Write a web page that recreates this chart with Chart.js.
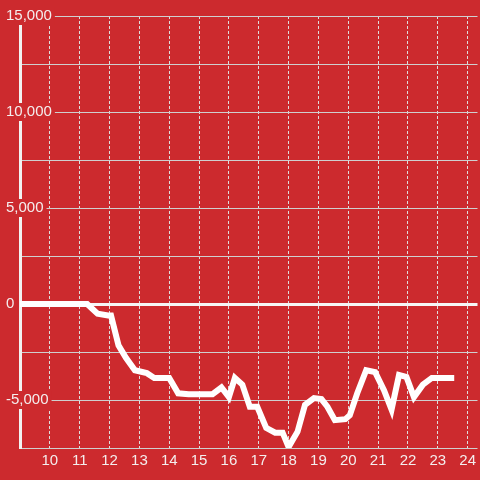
<!DOCTYPE html>
<html>
<head>
<meta charset="utf-8">
<script src="https://cdn.jsdelivr.net/npm/chart.js@4.4.1/dist/chart.umd.min.js"></script>
<style>
  html, body { margin: 0; padding: 0; background: #cc2a2e; }
  #wrap { width: 480px; height: 480px; }
</style>
</head>
<body>
<div id="wrap"><canvas id="myChart" width="480" height="480"></canvas></div>
<script>
// values
var hours = [9.0, 11.25, 11.6, 11.95, 12.05, 12.3, 12.55, 12.85, 13.25, 13.5, 14.0, 14.3, 14.65, 15.45, 15.75, 16.0, 16.2, 16.45, 16.7, 16.95, 17.25, 17.55, 17.8, 18.0, 18.3, 18.55, 18.85, 19.1, 19.3, 19.55, 19.9, 20.05, 20.3, 20.6, 20.9, 21.2, 21.45, 21.7, 21.95, 22.2, 22.5, 22.8, 23.55];
var values = [0, 0, -500, -600, -600, -2150, -2800, -3450, -3600, -3850, -3850, -4650, -4700, -4700, -4350, -4850, -3850, -4200, -5350, -5350, -6450, -6700, -6700, -7450, -6650, -5250, -4900, -4950, -5350, -6050, -6000, -5800, -4650, -3450, -3550, -4500, -5500, -3700, -3800, -4850, -4200, -3850, -3850];
var xTicks = [10, 11, 12, 13, 14, 15, 16, 17, 18, 19, 20, 21, 22, 23, 24];
var yTicks = [-7500, -5000, -2500, 0, 2500, 5000, 7500, 10000, 12500, 15000];

var points = [];
for (var i = 0; i < hours.length; i++) {
  points.push({x: hours[i], y: values[i]});
}

var red = '#cc2a2e';
var ctx = document.getElementById("myChart").getContext('2d');
var chart = new Chart(ctx, {
  type: 'line',
  data: {
    datasets: [{
      data: points,
      borderColor: '#ffffff',
      borderWidth: 6,
      borderJoinStyle: 'miter',
      pointRadius: 0,
      tension: 0,
      fill: false
    }]
  },
  options: {
    responsive: false,
    animation: false,
    layout: { padding: { left: 5, top: 16, right: 0, bottom: 6 } },
    plugins: { legend: { display: false }, tooltip: { enabled: false } },
    scales: {
      x: {
        type: 'linear',
        min: 9,
        max: 24.33,
        afterBuildTicks: function(scale) {
          scale.ticks = xTicks.map(function(v) { return {value: v}; });
        },
        grid: { color: '#dddddd', lineWidth: 1, drawTicks: false },
        border: { display: false, dash: [3, 2] },
        ticks: {
          color: '#f4eeee',
          padding: 4,
          maxRotation: 0,
          autoSkip: false,
          font: { family: 'Liberation Sans, Arial, sans-serif', size: 15 }
        }
      },
      y: {
        type: 'linear',
        min: -7500,
        max: 15000,
        afterBuildTicks: function(scale) {
          scale.ticks = yTicks.map(function(v) { return {value: v}; });
        },
        afterFit: function(scale) {
          scale.width = 15;
        },
        grid: {
          drawTicks: false,
          color: function(c) { return c.tick && c.tick.value === 0 ? '#f6f6f6' : '#cfcfcf'; },
          lineWidth: function(c) { return c.tick && c.tick.value === 0 ? 3 : 1; }
        },
        border: { display: true, color: '#f2f2f2', width: 3 },
        ticks: {
          z: 1,
          mirror: true,
          padding: -14,
          crossAlign: 'near',
          autoSkip: false,
          color: '#f4eeee',
          font: { family: 'Liberation Sans, Arial, sans-serif', size: 15 },
          showLabelBackdrop: function(c) { return c.tick && c.tick.value % 5000 === 0; },
          backdropColor: red,
          backdropPadding: { top: 0, bottom: 0, left: 2, right: 3 },
          callback: function(v) {
            return v % 5000 === 0 ? v.toLocaleString('en-US') : '';
          }
        }
      }
    }
  }
});
</script>
</body>
</html>
